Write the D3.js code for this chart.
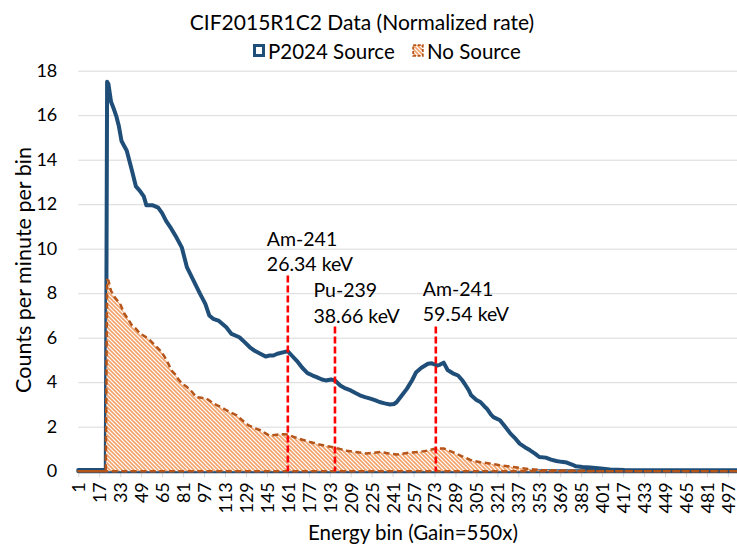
<!DOCTYPE html>
<html>
<head>
<meta charset="utf-8">
<script src="https://cdn.jsdelivr.net/npm/d3@7"></script>
<style>
  html, body { margin: 0; padding: 0; background: #fff; }
  svg { display: block; font-family: Lato, "Open Sans", sans-serif; }
</style>
</head>
<body>
<script>
// ---------------- data ----------------
const chartTitle = "CIF2015R1C2 Data (Normalized rate)";
const seriesNames = ["P2024 Source", "No Source"];
const xTitle = "Energy bin (Gain=550x)";
const yTitle = "Counts per minute per bin";

const binCount = 512;
const xTickLabels = [1, 17, 33, 49, 65, 81, 97, 113, 129, 145, 161, 177, 193, 209, 225, 241,
  257, 273, 289, 305, 321, 337, 353, 369, 385, 401, 417, 433, 449, 465, 481, 497];
const yTickLabels = [0, 2, 4, 6, 8, 10, 12, 14, 16, 18];

const sourceBins = [1, 22, 23, 24, 26, 28, 30, 32, 34, 38, 42, 45, 48, 51, 53, 58, 62, 65, 68, 72,
  76, 80, 84, 89, 94, 98, 101, 104, 108, 114, 118, 124, 128, 132, 136, 140, 144, 147, 150, 153,
  158, 161, 164, 168, 172, 176, 180, 183, 187, 190, 194, 197, 201, 205, 209, 213, 216, 220, 224, 228,
  231, 235, 239, 242, 244, 248, 252, 256, 259, 263, 268, 271, 275, 277, 280, 283, 287, 291, 294, 296,
  299, 301, 305, 308, 311, 313, 316, 318, 323, 327, 331, 335, 338, 342, 346, 350, 353, 358, 362, 366,
  370, 374, 378, 381, 386, 392, 400, 407, 418, 430, 452, 512];
const sourceValues = [0.05, 0.05, 17.5, 17.4, 16.6, 16.3, 15.96, 15.5, 14.84, 14.4, 13.5, 12.8, 12.6, 12.35, 11.95, 11.95, 11.85, 11.6, 11.25, 10.9,
  10.5, 10.06, 9.16, 8.57, 7.97, 7.52, 7.0, 6.85, 6.77, 6.47, 6.17, 6.02, 5.8, 5.57, 5.4, 5.28, 5.15, 5.2, 5.2, 5.28,
  5.35, 5.39, 5.2, 4.95, 4.65, 4.41, 4.3, 4.23, 4.12, 4.08, 4.12, 4.08, 3.85, 3.72, 3.63, 3.5, 3.41, 3.33, 3.26, 3.18,
  3.11, 3.05, 3.0, 3.02, 3.1, 3.4, 3.71, 4.1, 4.45, 4.65, 4.83, 4.85, 4.75, 4.78, 4.88, 4.55, 4.4, 4.3, 4.1, 3.93,
  3.65, 3.41, 3.2, 3.11, 2.92, 2.81, 2.55, 2.43, 2.29, 2.0, 1.69, 1.45, 1.24, 1.08, 0.94, 0.78, 0.64, 0.61, 0.52, 0.46,
  0.42, 0.39, 0.3, 0.22, 0.19, 0.17, 0.12, 0.08, 0.05, 0.04, 0.04, 0.04];

// No Source
const noSourceBins = [1, 22, 23, 24, 26, 29, 33, 36, 38, 42, 45, 48, 52, 56, 61, 64, 67, 70, 72, 75,
  77, 80, 84, 88, 91, 95, 99, 103, 107, 111, 114, 118, 122, 126, 131, 135, 140, 144, 147, 151,
  155, 158, 161, 165, 170, 174, 178, 182, 185, 191, 197, 202, 206, 213, 221, 226, 232, 238, 244, 248,
  252, 258, 262, 268, 274, 280, 285, 290, 296, 302, 308, 315, 322, 333, 340, 346, 355, 361, 384, 400, 512];
const noSourceValues = [0, 0, 8.6, 8.57, 8.1, 7.8, 7.52, 7.1, 6.92, 6.55, 6.4, 6.2, 6.05, 5.87, 5.57, 5.4, 5.13, 4.8, 4.53, 4.35,
  4.16, 3.95, 3.78, 3.55, 3.33, 3.3, 3.26, 3.1, 2.96, 2.85, 2.74, 2.62, 2.51, 2.3, 2.06, 1.95, 1.84, 1.7, 1.6, 1.63,
  1.66, 1.66, 1.65, 1.55, 1.45, 1.38, 1.31, 1.25, 1.2, 1.12, 1.06, 0.98, 0.92, 0.86, 0.8, 0.82, 0.87, 0.8, 0.75, 0.78,
  0.82, 0.85, 0.87, 0.93, 1.02, 1.02, 0.9, 0.78, 0.62, 0.47, 0.4, 0.35, 0.28, 0.19, 0.13, 0.09, 0.05, 0.04, 0.02, 0, 0];

// Reference energy lines
const markerBins = [161, 197, 274];
const markerHeights = [8.8, 6.5, 6.5];
const markerIsotopes = ["Am-241", "Pu-239", "Am-241"];
const markerEnergies = ["26.34 keV", "38.66 keV", "59.54 keV"];

// ---------------- layout ----------------
const W = 737, H = 546;
const plot = { left: 78.3, right: 747.5, top: 70.7, bottom: 471.2 };
const colors = { source: "#1F4E79", fillStripe: "#F2A36C", border: "#B5551A", marker: "#FF0000", grid: "#D9D9D9", text: "#000" };

const svg = d3.select("body").append("svg").attr("width", W).attr("height", H);

const x = d3.scaleLinear().domain([1, binCount]).range([plot.left, plot.right]);
const y = d3.scaleLinear().domain([0, 18]).range([plot.bottom, plot.top]);

// hatch pattern
const defs = svg.append("defs");
const pat = defs.append("pattern").attr("id", "hatch").attr("patternUnits", "userSpaceOnUse")
  .attr("width", 4).attr("height", 4);
pat.append("rect").attr("width", 4).attr("height", 4).attr("fill", "#fff");
pat.append("path").attr("d", "M-1,3 l2,2 M0,0 l4,4 M3,-1 l2,2")
  .attr("stroke", colors.fillStripe).attr("stroke-width", 1.6);

// gridlines + y labels
const yAxis = d3.axisLeft(y).tickValues(yTickLabels).tickSizeInner(-(plot.right - plot.left)).tickSizeOuter(0).tickPadding(21);
const gy = svg.append("g").attr("transform", `translate(${plot.left},0)`).call(yAxis);
gy.select(".domain").remove();
gy.selectAll(".tick line").attr("stroke", colors.grid).attr("stroke-width", 1);
gy.selectAll(".tick text").attr("font-size", 18).attr("font-family", "Lato").attr("fill", colors.text);

// x axis
const xAxis = d3.axisBottom(x).tickValues(xTickLabels).tickSizeInner(6).tickSizeOuter(0).tickFormat(d3.format("d"));
const gx = svg.append("g").attr("transform", `translate(0,${plot.bottom})`).call(xAxis);
gx.select(".domain").attr("stroke", colors.grid);
gx.selectAll(".tick line").attr("stroke", colors.grid);
gx.selectAll(".tick text")
  .attr("transform", "rotate(-90)")
  .attr("x", -11).attr("y", 0).attr("dy", "0.36em")
  .style("text-anchor", "end")
  .attr("font-size", 18).attr("font-family", "Lato").attr("fill", colors.text);

// series
const sourceData = sourceBins.map((b, i) => ({ b, v: sourceValues[i] }));
const noSourceData = noSourceBins.map((b, i) => ({ b, v: noSourceValues[i] }));

const area = d3.area().x(d => x(d.b)).y0(y(0)).y1(d => y(d.v));

svg.append("path").datum(sourceData)
  .attr("d", area)
  .attr("fill", "none").attr("stroke", colors.source).attr("stroke-width", 4)
  .attr("stroke-linejoin", "round");

svg.append("path").datum(noSourceData)
  .attr("d", area)
  .attr("fill", "url(#hatch)").attr("stroke", colors.border).attr("stroke-width", 2.5)
  .attr("stroke-dasharray", "6,3.5").attr("stroke-linejoin", "round");

// markers
const markers = markerBins.map((b, i) => ({ b, h: markerHeights[i], iso: markerIsotopes[i], en: markerEnergies[i] }));
svg.append("g").selectAll("line").data(markers).join("line")
  .attr("x1", d => x(d.b)).attr("x2", d => x(d.b))
  .attr("y1", d => y(d.h)).attr("y2", y(0))
  .attr("stroke", colors.marker).attr("stroke-width", 2.6).attr("stroke-dasharray", "7,3");

const labelDx = [-21, -21.5, -13];
const labelDy = [-4, -4, -5.5];
const lg = svg.append("g").attr("font-size", 19.5).attr("fill", colors.text);
markers.forEach((d, i) => {
  const t = lg.append("text").attr("x", x(d.b) + labelDx[i]).attr("y", y(d.h) + labelDy[i] - 25.5);
  t.append("tspan").attr("x", x(d.b) + labelDx[i]).text(d.iso);
  t.append("tspan").attr("x", x(d.b) + labelDx[i]).attr("dy", 25.5).text(d.en);
});

// title
svg.append("text").attr("x", 362).attr("y", 29.5).attr("text-anchor", "middle")
  .attr("font-size", 21).attr("fill", "#000").text(chartTitle);

// legend
const leg = svg.append("g").attr("font-size", 20.5).attr("fill", "#000");
const legX = [253, 412];
leg.append("rect").attr("x", legX[0] + 1.5).attr("y", 45.5).attr("width", 9).attr("height", 10)
  .attr("fill", "#fff").attr("stroke", colors.source).attr("stroke-width", 3);
leg.append("rect").attr("x", legX[1] + 1.2).attr("y", 45.2).attr("width", 9.6).attr("height", 10.6)
  .attr("fill", "url(#hatch)").attr("stroke", colors.border).attr("stroke-width", 1.8).attr("stroke-dasharray", "3,1.5");
seriesNames.forEach((n, i) => {
  leg.append("text").attr("x", legX[i] + 15).attr("y", 59).text(n);
});

// axis titles
svg.append("text").attr("x", 413).attr("y", 540).attr("text-anchor", "middle")
  .attr("font-size", 20.5).attr("fill", "#000").text(xTitle);
svg.append("text").attr("transform", "translate(31,270) rotate(-90)").attr("text-anchor", "middle")
  .attr("font-size", 21.5).attr("fill", "#000").text(yTitle);
</script>
</body>
</html>
